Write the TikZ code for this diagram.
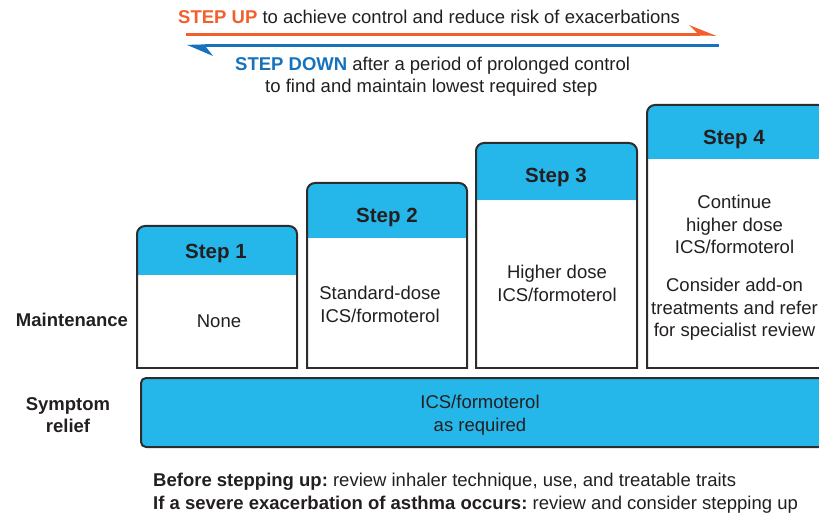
\documentclass[tikz,border=0pt]{standalone}
\usepackage{fontspec}
\setmainfont{Liberation Sans}
\frenchspacing
\definecolor{ink}{RGB}{35,31,32}
\definecolor{edge}{RGB}{45,45,45}
\definecolor{cyanhead}{RGB}{38,183,234}
\definecolor{upcol}{RGB}{241,96,43}
\definecolor{downcol}{RGB}{22,114,188}
\newcommand\stepframe[4]{%
  \begin{scope}
    \clip[rounded corners=8] (#1,#3) rectangle (#2,395);
    \fill[white] (#1,#3) rectangle (#2,368);
    \fill[cyanhead] (#1,#3) rectangle (#2,#4);
  \end{scope}
  \begin{scope}
    \clip (#1-3,#3-3) rectangle (#2+3,368);
    \draw[boxline, rounded corners=8] (#1,#3) rectangle (#2,395);
  \end{scope}
  \draw[boxline, line cap=rect] (#1,368) -- (#2,368);
}
\begin{document}
\begin{tikzpicture}[x=1pt,y=-1pt,
  txt/.style={text=ink, font=\fontsize{18.5}{22.3}\selectfont, align=center, inner sep=0},
  note/.style={text=ink, font=\fontsize{18.5}{22.3}\selectfont\frenchspacing, inner sep=0},
  lbl/.style={text=ink, font=\bfseries\fontsize{18.5}{22.3}\selectfont, align=center, inner sep=0},
  head/.style={text=ink, font=\bfseries\fontsize{20.5}{24}\selectfont, inner sep=0, anchor=base},
  boxline/.style={draw=edge, line width=2pt},
  uparrow/.style={draw=upcol, line width=2.6pt},
  downarrow/.style={draw=downcol, line width=2.6pt}]
\useasboundingbox (0,0) rectangle (819,513);
\clip (0,0) rectangle (819,513);

% top arrows
\coordinate (upS) at (186,34.3);
\coordinate (upE) at (700,34.3);
\coordinate (dnS) at (719,45.6);
\coordinate (dnE) at (205,45.6);
\draw[uparrow] (upS) -- (upE);
\fill[upcol] (689,25) -- (716,35.8) -- (697,35.6) -- (697,33) -- cycle;
\draw[downarrow] (dnS) -- (dnE);
\fill[downcol] (187,44.9) -- (208,44.3) -- (206,47) -- (213,56) -- cycle;

\node[txt, anchor=base west] (uptext) at (178,23.6) {\textcolor{upcol}{\bfseries STEP UP} to achieve control and reduce risk of exacerbations};
\node[txt, anchor=base west] (dntext) at (235,70.6) {\textcolor{downcol}{\bfseries STEP DOWN} after a period of prolonged control};
\node[txt, anchor=base west] (dntext2) at (265,92.6) {to find and maintain lowest required step};

% step boxes
\stepframe{137}{297}{226}{275}
\stepframe{307}{467}{183}{238}
\stepframe{476}{637}{143}{200}
\stepframe{647}{840}{105}{159}

\node[head] (h1) at (216,258.3) {Step 1};
\node[head] (h2) at (387,222.3) {Step 2};
\node[head] (h3) at (556,182.3) {Step 3};
\node[head] (h4) at (734,144.3) {Step 4};

\node[txt, anchor=base] (b1) at (219,327.6) {None};
\node[txt, anchor=north] (b2) at (380,299.6-13.4) {Standard-dose\\ICS/formoterol};
\node[txt, anchor=north] (b3) at (557,278.6-13.4) {Higher dose\\ICS/formoterol};
\node[txt, anchor=north] (b4a) at (734.5,208.6-13.4) {Continue\\higher dose\\ICS/formoterol};
\node[txt, anchor=north] (b4b) at (734.5,291.6-13.4) {Consider add-on\\treatments and refer\\for specialist review};

% row labels
\node[lbl, anchor=base] (maint) at (72,326.6) {Maintenance};
\node[lbl, anchor=north] (relief) at (68,410.6-13.4) {Symptom\\relief};

% symptom relief bar
\draw[boxline, fill=cyanhead, rounded corners=5] (141,378) rectangle (840,447);
\node[txt, anchor=north] (bar) at (480,408.6-13.4) {ICS/formoterol\\as required};

% bottom notes
\node[note, anchor=base west] (note1) at (153,486.6) {\textbf{Before stepping up:} review inhaler technique, use, and treatable traits};
\node[note, anchor=base west] (note2) at (153,509.6) {\textbf{If a severe exacerbation of asthma occurs:} review and consider stepping up};
\end{tikzpicture}
\end{document}
